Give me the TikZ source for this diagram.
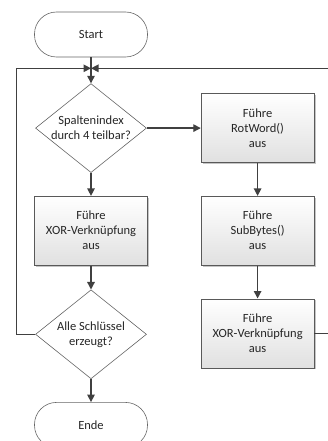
\documentclass[tikz,border=0pt]{standalone}
\usepackage{fontspec}
\setmainfont{Carlito}
\usetikzlibrary{shapes.geometric, arrows.meta, positioning, shadows}

\begin{document}
\begin{tikzpicture}[
    x=1pt, y=1pt,
    every node/.style={font=\fontsize{12.5}{15}\selectfont, text=black!85, align=center},
    terminal/.style={rectangle, rounded corners=22pt, draw=black!60, line width=0.6pt, fill=white, minimum width=113pt, minimum height=45pt},
    decision/.style={diamond, draw=black!60, line width=0.6pt, fill=white, aspect=1.25, inner sep=0pt, minimum width=111pt, minimum height=89pt},
    process/.style={rectangle, draw=black!65, line width=0.6pt, top color=white, bottom color=black!12, drop shadow={shadow xshift=1.5pt, shadow yshift=-1.5pt, fill=black!45}, minimum width=113pt, minimum height=69pt},
    arr/.style={-{Triangle[length=7.5pt, width=7.5pt]}, draw=black!75, line width=1.3pt}
]
    \useasboundingbox (0,0) rectangle (328,-441);

    % Main column
    \node[terminal] (start) at (91,-34.5) {Start};
    \coordinate[below=11pt of start] (merge);
    \node[decision, below=26pt of start] (test4) {Spaltenindex\\durch 4 teilbar?};
    \node[process, below=23pt of test4] (xorleft) {Führe\\XOR-Verknüpfung\\aus};
    \node[decision, below=24pt of xorleft] (alldone) {Alle Schlüssel\\erzeugt?};
    \node[terminal, below=23pt of alldone] (ende) {Ende};

    % Right column
    \node[process, right=54pt of test4] (rotword) {Führe\\RotWord()\\aus};
    \node[process, below=33pt of rotword] (subbytes) {Führe\\SubBytes()\\aus};
    \node[process, below=33pt of subbytes] (xorright) {Führe\\XOR-Verknüpfung\\aus};

    % Loop corners
    \coordinate[left=19pt of alldone.west] (loopl);
    \coordinate[right=16pt of xorright.east] (loopr);

    % Arrows
    \draw[arr] (start) -- (test4);
    \draw[arr] (test4) -- (rotword);
    \draw[arr] (test4) -- (xorleft);
    \draw[arr] (xorleft) -- (alldone);
    \draw[arr] (alldone) -- (ende);
    \draw[arr] (rotword) -- (subbytes);
    \draw[arr] (subbytes) -- (xorright);
    \draw[arr] (alldone.west) -- (loopl) |- (merge);
    \draw[arr] (xorright.east) -- (loopr) |- (merge);
\end{tikzpicture}
\end{document}
